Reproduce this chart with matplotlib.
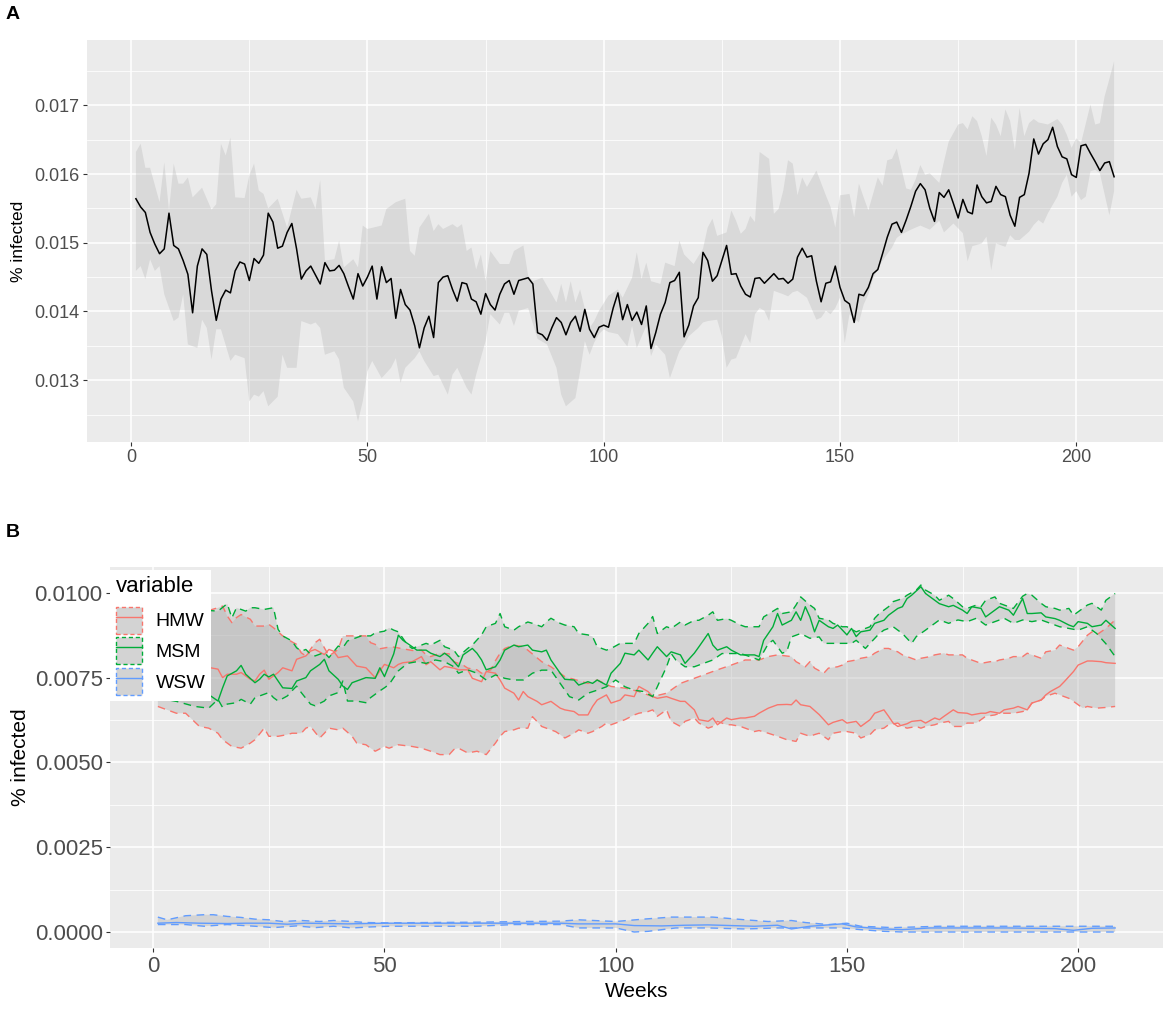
import matplotlib
matplotlib.use("Agg")
import matplotlib.pyplot as plt
from matplotlib.patches import Patch
from matplotlib.lines import Line2D
from matplotlib.legend_handler import HandlerTuple
import numpy as np

plt.rcParams['font.family'] = ['Liberation Sans', 'DejaVu Sans']

# ---------------- panel A : overall % infected ----------------
weeks = np.arange(1, 209)
a_mid = [
    .01564, .01552, .01544, .01515, .01498, .01484, .01491, .01543, .01496, .01491,
    .01474, .01454, .01398, .01466, .01491, .01483, .01430, .01387, .01418, .01431,
    .01427, .01459, .01472, .01469, .01445, .01477, .01470, .01482, .01543, .01530,
    .01492, .01495, .01515, .01528, .01491, .01447, .01459, .01466, .01453, .01440,
    .01471, .01459, .01460, .01467, .01455, .01436, .01418, .01455, .01437, .01450,
    .01466, .01418, .01465, .01442, .01448, .01390, .01432, .01410, .01402, .01379,
    .01347, .01376, .01393, .01362, .01442, .01450, .01452, .01432, .01415, .01442,
    .01440, .01418, .01414, .01396, .01426, .01410, .01402, .01425, .01440, .01445,
    .01425, .01445, .01447, .01449, .01440, .01369, .01366, .01358, .01376, .01391,
    .01384, .01366, .01384, .01393, .01371, .01403, .01374, .01362, .01377, .01380,
    .01377, .01405, .01427, .01388, .01410, .01387, .01399, .01381, .01408, .01346,
    .01369, .01396, .01413, .01442, .01445, .01457, .01363, .01380, .01408, .01420,
    .01486, .01474, .01444, .01452, .01474, .01496, .01454, .01455, .01437, .01425,
    .01421, .01448, .01449, .01441, .01448, .01455, .01447, .01448, .01441, .01447,
    .01479, .01492, .01479, .01481, .01444, .01414, .01441, .01443, .01466, .01435,
    .01416, .01411, .01384, .01425, .01423, .01435, .01455, .01461, .01484, .01508,
    .01527, .01530, .01515, .01533, .01553, .01575, .01586, .01577, .01550, .01531,
    .01573, .01566, .01577, .01557, .01536, .01563, .01545, .01542, .01584, .01567,
    .01558, .01560, .01582, .01570, .01567, .01540, .01524, .01566, .01570, .01601,
    .01651, .01629, .01644, .01650, .01668, .01640, .01625, .01622, .01599, .01595,
    .01641, .01643, .01630, .01618, .01605, .01616, .01618, .01596]

a_up_wk = [1, 2, 3, 4, 6, 7, 8, 9, 10, 11, 12, 13, 15, 17, 18, 19, 20, 21, 22, 24,
           25, 26, 27, 28, 29, 31, 33, 35, 36, 38, 39, 40, 41, 43, 44, 45, 47, 48, 49, 50,
           53, 54, 56, 58, 59, 60, 61, 63, 64, 65, 66, 68, 69, 70, 71, 72, 73, 74, 75, 76,
           78, 79, 80, 81, 83, 84, 85, 87, 89, 90, 91, 92, 93, 94, 95, 97, 98, 99, 101, 103,
           104, 106, 107, 108, 109, 110, 112, 113, 115, 116, 117, 119, 121, 122, 123, 124, 126, 127, 128, 129,
           130, 131, 132, 133, 135, 136, 137, 138, 139, 140, 141, 142, 143, 145, 147, 148, 149, 150, 152, 153,
           154, 155, 156, 157, 158, 159, 160, 161, 162, 164, 165, 166, 167, 168, 169, 171, 172, 173, 175, 176,
           177, 178, 179, 180, 181, 182, 183, 184, 185, 186, 187, 188, 189, 190, 191, 192, 194, 196, 197, 198,
           199, 200, 201, 203, 204, 205, 206, 207, 208]
a_up = [.01632, .01644, .01609, .01609, .01559, .01617, .01547, .01615, .01586, .01586,
        .01595, .01566, .01580, .01548, .01556, .01644, .01627, .01653, .01566, .01565,
        .01598, .01615, .01576, .01571, .01550, .01564, .01522, .01577, .01564, .01566,
        .01549, .01591, .01474, .01476, .01503, .01464, .01476, .01464, .01525, .01520,
        .01525, .01549, .01559, .01564, .01488, .01481, .01522, .01542, .01517, .01527,
        .01520, .01527, .01522, .01527, .01488, .01493, .01461, .01483, .01444, .01488,
        .01469, .01469, .01469, .01488, .01496, .01452, .01444, .01449, .01425, .01413,
        .01440, .01413, .01444, .01413, .01432, .01376, .01386, .01401, .01423, .01432,
        .01420, .01449, .01486, .01447, .01471, .01444, .01440, .01471, .01466, .01503,
        .01483, .01469, .01491, .01522, .01535, .01510, .01515, .01547, .01532, .01513,
        .01520, .01539, .01530, .01632, .01622, .01542, .01549, .01576, .01620, .01615,
        .01569, .01595, .01581, .01605, .01569, .01552, .01522, .01569, .01571, .01537,
        .01586, .01566, .01547, .01571, .01595, .01583, .01620, .01622, .01637, .01579,
        .01577, .01592, .01613, .01599, .01601, .01587, .01618, .01647, .01672, .01674,
        .01665, .01684, .01677, .01655, .01626, .01682, .01672, .01655, .01694, .01677,
        .01635, .01696, .01655, .01674, .01680, .01675, .01672, .01680, .01672, .01657,
        .01638, .01652, .01645, .01701, .01672, .01674, .01713, .01738, .01764]

a_lo_wk = [1, 2, 3, 4, 5, 6, 7, 9, 10, 11, 12, 14, 15, 16, 17, 18, 19, 21, 22, 24,
           25, 26, 27, 28, 29, 31, 32, 33, 35, 36, 38, 39, 40, 41, 43, 44, 45, 47, 48, 49,
           50, 51, 53, 55, 56, 57, 58, 60, 61, 62, 64, 65, 67, 68, 69, 71, 72, 73, 75, 76,
           78, 79, 80, 81, 82, 84, 86, 88, 90, 91, 92, 94, 95, 96, 97, 98, 99, 100, 101, 103,
           105, 106, 107, 109, 110, 111, 113, 114, 116, 117, 118, 120, 121, 122, 124, 125, 126, 127, 128, 130,
           131, 132, 133, 134, 135, 136, 138, 139, 140, 141, 143, 145, 146, 147, 148, 149, 150, 151, 152, 154,
           155, 156, 157, 159, 161, 162, 163, 165, 167, 169, 171, 172, 174, 176, 177, 178, 180, 181, 182, 183,
           185, 186, 187, 188, 190, 191, 192, 193, 194, 196, 197, 198, 199, 200, 201, 202, 203, 204, 205, 207,
           208]
a_lo = [.01459, .01466, .01447, .01476, .01459, .01466, .01425, .01386, .01391, .01425,
        .01352, .01347, .01388, .01376, .01330, .01374, .01374, .01328, .01337, .01332,
        .01269, .01279, .01276, .01284, .01262, .01276, .01337, .01318, .01318, .01386,
        .01381, .01384, .01376, .01337, .01342, .01330, .01289, .01269, .01240, .01269,
        .01313, .01328, .01303, .01318, .01332, .01296, .01318, .01332, .01342, .01328,
        .01306, .01308, .01279, .01308, .01318, .01289, .01279, .01308, .01357, .01396,
        .01381, .01398, .01398, .01379, .01401, .01405, .01360, .01352, .01318, .01279,
        .01262, .01274, .01313, .01357, .01337, .01355, .01367, .01374, .01370, .01367,
        .01349, .01379, .01347, .01379, .01335, .01352, .01337, .01303, .01342, .01352,
        .01364, .01376, .01384, .01386, .01388, .01364, .01318, .01330, .01332, .01367,
        .01354, .01396, .01405, .01401, .01386, .01430, .01425, .01422, .01428, .01430,
        .01420, .01388, .01391, .01401, .01396, .01405, .01420, .01354, .01396, .01384,
        .01410, .01425, .01448, .01474, .01493, .01507, .01512, .01519, .01525, .01519,
        .01532, .01515, .01528, .01514, .01473, .01495, .01499, .01509, .01460, .01499,
        .01494, .01511, .01504, .01504, .01516, .01526, .01533, .01528, .01543, .01567,
        .01587, .01599, .01567, .01575, .01562, .01567, .01604, .01606, .01601, .01540,
        .01575]

# ---------------- panel B : by group ----------------
groups = ['HMW', 'MSM', 'WSW']
colors = ['#F8766D', '#00AD38', '#619CFF']

hmw_mid_wk = [1, 4, 7, 10, 12, 14, 15, 16, 18, 19, 21, 22, 23, 24, 25, 27, 28, 30, 31, 33,
              34, 35, 37, 38, 39, 40, 42, 43, 44, 46, 48, 49, 50, 52, 53, 54, 56, 58, 59, 60,
              62, 63, 65, 66, 68, 69, 71, 72, 74, 75, 76, 78, 79, 80, 81, 83, 84, 86, 88, 89,
              91, 92, 94, 95, 96, 98, 99, 101, 102, 104, 105, 107, 108, 109, 111, 112, 114, 115, 117, 118,
              120, 121, 122, 124, 125, 127, 128, 130, 131, 133, 135, 137, 138, 139, 140, 142, 144, 146, 147, 149,
              150, 152, 153, 155, 156, 158, 159, 160, 161, 163, 164, 166, 167, 169, 170, 171, 173, 174, 176, 177,
              179, 180, 181, 183, 184, 186, 187, 189, 190, 192, 193, 194, 196, 197, 199, 200, 202, 203, 205, 206,
              208]
hmw_mid = [.00800, .00790, .00810, .00790, .00780, .00775, .00750, .00760, .00760, .00765,
           .00745, .00740, .00760, .00772, .00745, .00765, .00779, .00770, .00804, .00814,
           .00828, .00833, .00818, .00833, .00828, .00809, .00814, .00799, .00784, .00779,
           .00750, .00770, .00789, .00779, .00789, .00794, .00797, .00812, .00788, .00797,
           .00773, .00783, .00778, .00773, .00773, .00748, .00738, .00768, .00763, .00743,
           .00719, .00704, .00684, .00709, .00694, .00680, .00670, .00680, .00660, .00655,
           .00650, .00640, .00640, .00665, .00684, .00699, .00675, .00684, .00699, .00694,
           .00724, .00709, .00694, .00689, .00694, .00689, .00680, .00680, .00655, .00626,
           .00621, .00631, .00611, .00631, .00626, .00631, .00631, .00636, .00645, .00660,
           .00670, .00671, .00670, .00684, .00670, .00665, .00641, .00611, .00618, .00626,
           .00616, .00621, .00606, .00626, .00645, .00655, .00636, .00616, .00606, .00614,
           .00621, .00624, .00616, .00631, .00626, .00636, .00655, .00647, .00645, .00640,
           .00645, .00645, .00650, .00645, .00655, .00660, .00665, .00655, .00675, .00684,
           .00699, .00709, .00724, .00738, .00768, .00787, .00799, .00799, .00797, .00794,
           .00792]

hmw_lo_wk = [1, 3, 5, 7, 10, 12, 14, 15, 17, 19, 21, 22, 24, 25, 27, 29, 30, 32, 33, 34,
             36, 37, 38, 40, 41, 43, 44, 46, 47, 48, 50, 51, 53, 56, 58, 60, 62, 64, 65, 66,
             68, 70, 72, 74, 75, 76, 78, 79, 81, 82, 84, 85, 87, 88, 89, 91, 92, 94, 95, 97,
             98, 99, 101, 102, 104, 105, 107, 108, 109, 111, 112, 114, 115, 117, 118, 120, 121, 122, 124, 125,
             127, 128, 130, 131, 133, 135, 137, 139, 140, 142, 143, 144, 146, 147, 149, 150, 152, 153, 155, 156,
             158, 159, 161, 162, 163, 165, 166, 167, 169, 170, 172, 173, 175, 176, 178, 179, 180, 182, 183, 185,
             186, 188, 189, 190, 192, 193, 195, 196, 198, 199, 201, 202, 204, 206, 208]
hmw_lo = [.00665, .00655, .00645, .00645, .00606, .00601, .00586, .00567, .00547, .00542,
          .00557, .00567, .00601, .00577, .00577, .00582, .00586, .00586, .00601, .00606,
          .00572, .00586, .00601, .00596, .00601, .00577, .00557, .00552, .00542, .00533,
          .00547, .00542, .00552, .00547, .00542, .00533, .00523, .00523, .00538, .00542,
          .00528, .00533, .00523, .00557, .00577, .00591, .00596, .00601, .00601, .00635,
          .00606, .00601, .00591, .00582, .00572, .00586, .00596, .00586, .00591, .00606,
          .00616, .00611, .00621, .00626, .00640, .00645, .00650, .00655, .00636, .00655,
          .00621, .00606, .00621, .00631, .00616, .00601, .00606, .00621, .00611, .00611,
          .00606, .00601, .00591, .00594, .00586, .00577, .00567, .00562, .00586, .00577,
          .00582, .00586, .00567, .00586, .00591, .00591, .00586, .00572, .00582, .00596,
          .00601, .00611, .00616, .00606, .00601, .00606, .00601, .00606, .00611, .00616,
          .00621, .00606, .00606, .00616, .00616, .00626, .00636, .00640, .00645, .00645,
          .00645, .00650, .00655, .00675, .00684, .00695, .00704, .00699, .00689, .00680,
          .00660, .00665, .00660, .00662, .00665]

hmw_up_wk = [1, 5, 10, 14, 15, 16, 17, 18, 19, 21, 22, 24, 25, 26, 28, 29, 31, 32, 33, 35,
             36, 37, 38, 40, 41, 43, 44, 46, 47, 48, 49, 51, 52, 54, 56, 58, 59, 60, 62, 64,
             65, 67, 68, 70, 71, 73, 74, 75, 76, 78, 80, 81, 84, 86, 89, 94, 96, 99, 102, 105,
             108, 111, 114, 117, 120, 122, 125, 128, 131, 133, 135, 138, 139, 141, 142, 143, 145, 146, 148, 149,
             150, 152, 153, 155, 156, 158, 159, 161, 162, 163, 165, 166, 168, 169, 171, 172, 174, 175, 176, 178,
             179, 181, 182, 183, 185, 186, 188, 189, 191, 192, 193, 195, 196, 198, 199, 200, 202, 203, 204, 206,
             208]
hmw_up = [.00930, .00950, .00940, .00956, .00961, .00932, .00912, .00927, .00936, .00922,
          .00902, .00902, .00907, .00897, .00873, .00863, .00848, .00823, .00814, .00853,
          .00863, .00838, .00814, .00833, .00873, .00873, .00873, .00873, .00853, .00848,
          .00835, .00840, .00840, .00835, .00830, .00831, .00817, .00812, .00822, .00820,
          .00797, .00787, .00778, .00773, .00763, .00773, .00800, .00822, .00836, .00846,
          .00841, .00831, .00797, .00782, .00753, .00733, .00743, .00724, .00719, .00709,
          .00694, .00704, .00733, .00748, .00763, .00773, .00787, .00802, .00802, .00812,
          .00817, .00812, .00797, .00782, .00797, .00778, .00763, .00778, .00782, .00787,
          .00797, .00802, .00807, .00812, .00822, .00836, .00836, .00826, .00817, .00812,
          .00802, .00807, .00812, .00817, .00822, .00817, .00817, .00817, .00807, .00797,
          .00792, .00797, .00797, .00802, .00807, .00812, .00812, .00822, .00812, .00807,
          .00826, .00831, .00846, .00836, .00831, .00841, .00875, .00885, .00876, .00895,
          .00920]

msm_mid_wk = [1, 5, 9, 12, 14, 15, 16, 18, 19, 20, 22, 23, 24, 25, 26, 27, 28, 30, 31, 33,
              34, 36, 37, 38, 40, 41, 42, 43, 44, 46, 48, 49, 50, 52, 53, 54, 56, 57, 59, 60,
              62, 63, 64, 66, 67, 69, 70, 71, 72, 74, 75, 76, 78, 79, 81, 82, 84, 85, 86, 88,
              89, 91, 92, 94, 95, 96, 98, 99, 101, 102, 104, 105, 107, 108, 109, 111, 112, 114, 115, 117,
              118, 120, 121, 122, 124, 125, 127, 128, 130, 131, 132, 134, 135, 136, 138, 139, 140, 141, 142, 143,
              144, 146, 147, 148, 150, 151, 152, 153, 155, 156, 158, 159, 161, 162, 163, 164, 166, 167, 169, 170,
              172, 173, 175, 176, 177, 179, 180, 182, 183, 185, 186, 188, 189, 190, 192, 193, 195, 196, 198, 199,
              200, 202, 203, 205, 206, 208]
msm_mid = [.00720, .00740, .00710, .00700, .00681, .00720, .00755, .00770, .00786, .00760,
           .00735, .00745, .00760, .00752, .00760, .00740, .00720, .00718, .00740, .00750,
           .00770, .00789, .00804, .00770, .00745, .00725, .00715, .00735, .00740, .00750,
           .00748, .00779, .00753, .00820, .00875, .00860, .00841, .00831, .00831, .00822,
           .00812, .00822, .00812, .00782, .00817, .00836, .00822, .00802, .00773, .00782,
           .00802, .00831, .00846, .00841, .00846, .00831, .00826, .00831, .00802, .00763,
           .00745, .00743, .00728, .00738, .00733, .00743, .00728, .00763, .00792, .00822,
           .00817, .00831, .00802, .00822, .00841, .00812, .00826, .00817, .00792, .00822,
           .00841, .00880, .00846, .00831, .00841, .00831, .00817, .00817, .00817, .00812,
           .00860, .00900, .00939, .00905, .00919, .00944, .00919, .00959, .00929, .00885,
           .00919, .00900, .00895, .00905, .00876, .00895, .00871, .00885, .00890, .00910,
           .00919, .00934, .00954, .00959, .00983, .00993, .01018, .00998, .00978, .00968,
           .00959, .00963, .00949, .00939, .00959, .00954, .00929, .00949, .00959, .00949,
           .00934, .00983, .00939, .00939, .00941, .00929, .00924, .00919, .00905, .00900,
           .00915, .00910, .00900, .00905, .00919, .00895]

msm_up_wk = [1, 5, 10, 14, 16, 17, 18, 20, 21, 22, 24, 26, 27, 28, 30, 31, 32, 33, 34, 35,
             37, 38, 40, 41, 42, 44, 45, 47, 48, 50, 51, 52, 53, 55, 56, 58, 59, 60, 62, 63,
             65, 66, 68, 69, 71, 72, 74, 75, 76, 78, 79, 81, 82, 84, 85, 86, 88, 89, 91, 92,
             94, 95, 96, 98, 99, 101, 102, 104, 105, 107, 108, 109, 111, 112, 114, 115, 117, 118, 120, 121,
             122, 124, 125, 127, 128, 130, 131, 132, 135, 136, 138, 139, 140, 142, 143, 144, 146, 147, 149, 150,
             152, 153, 155, 156, 157, 159, 160, 162, 163, 165, 166, 167, 169, 170, 172, 173, 175, 176, 178, 179,
             180, 182, 183, 185, 186, 188, 189, 190, 192, 193, 195, 196, 198, 199, 200, 202, 203, 205, 206, 208]
msm_up = [.00900, .00930, .00950, .00946, .00968, .00926, .00956, .00946, .00956, .00956,
          .00951, .00956, .00892, .00873, .00858, .00838, .00828, .00833, .00819, .00814,
          .00824, .00809, .00843, .00838, .00858, .00868, .00873, .00873, .00882, .00887,
          .00897, .00890, .00885, .00846, .00836, .00846, .00851, .00846, .00860, .00841,
          .00831, .00812, .00836, .00846, .00876, .00900, .00910, .00939, .00900, .00890,
          .00900, .00914, .00910, .00900, .00914, .00925, .00910, .00905, .00900, .00880,
          .00876, .00871, .00841, .00831, .00836, .00851, .00851, .00851, .00880, .00910,
          .00930, .00880, .00900, .00895, .00914, .00905, .00919, .00919, .00934, .00944,
          .00919, .00924, .00919, .00905, .00900, .00900, .00900, .00929, .00954, .00939,
          .00944, .00964, .00988, .00964, .00954, .00925, .00920, .00910, .00900, .00900,
          .00885, .00890, .00900, .00925, .00939, .00959, .00974, .00983, .00993, .01008,
          .01023, .01008, .00993, .00978, .00993, .00983, .00959, .00954, .00964, .00959,
          .00978, .00988, .00969, .00959, .00954, .00990, .00998, .00993, .00969, .00959,
          .00954, .00949, .00954, .00934, .00944, .00964, .00969, .00949, .00978, .00998]

msm_lo_wk = [1, 5, 9, 12, 14, 15, 16, 18, 19, 21, 22, 23, 25, 26, 27, 29, 30, 31, 32, 34,
             35, 37, 38, 40, 41, 42, 44, 46, 47, 49, 50, 51, 53, 55, 57, 59, 61, 63, 65, 66,
             68, 70, 72, 74, 76, 78, 80, 82, 84, 86, 88, 90, 92, 94, 96, 98, 100, 102, 104, 106,
             108, 109, 111, 112, 113, 115, 117, 119, 121, 123, 125, 127, 129, 131, 133, 134, 136, 137, 138, 140,
             142, 144, 145, 147, 149, 151, 152, 154, 155, 157, 158, 160, 162, 164, 165, 167, 169, 170, 172, 174,
             176, 178, 180, 182, 184, 186, 188, 190, 192, 194, 196, 198, 200, 202, 204, 206, 208]
msm_lo = [.00690, .00680, .00665, .00660, .00686, .00662, .00672, .00676, .00686, .00672,
          .00691, .00696, .00706, .00691, .00681, .00696, .00711, .00725, .00706, .00672,
          .00667, .00681, .00696, .00706, .00740, .00681, .00681, .00676, .00691, .00711,
          .00720, .00730, .00770, .00792, .00797, .00792, .00802, .00797, .00782, .00763,
          .00773, .00763, .00743, .00758, .00748, .00743, .00743, .00763, .00772, .00772,
          .00733, .00694, .00684, .00704, .00713, .00723, .00743, .00723, .00713, .00709,
          .00694, .00723, .00782, .00821, .00802, .00782, .00782, .00792, .00802, .00821,
          .00821, .00821, .00812, .00802, .00850, .00860, .00822, .00827, .00870, .00880,
          .00866, .00870, .00851, .00851, .00851, .00851, .00860, .00836, .00851, .00880,
          .00890, .00900, .00880, .00851, .00871, .00890, .00910, .00920, .00910, .00920,
          .00915, .00925, .00905, .00915, .00925, .00910, .00920, .00915, .00920, .00910,
          .00900, .00895, .00890, .00900, .00880, .00850, .00812]

wsw_mid_wk = [1, 5, 10, 16, 20, 25, 29, 33, 38, 42, 46, 50, 60, 70, 80, 88, 92, 100, 104, 110,
              115, 120, 125, 130, 135, 138, 142, 149, 152, 158, 162, 168, 175, 185, 195, 199, 203, 208]
wsw_mid = [.00026, .00028, .00026, .00025, .00026, .00026, .00023, .00026, .00025, .00024,
           .00025, .00026, .00026, .00026, .00026, .00026, .00024, .00024, .00019, .00018,
           .00020, .00021, .00019, .00017, .00020, .00009, .00017, .00024, .00015, .00009,
           .00007, .00012, .00012, .00012, .00010, .00005, .00011, .00012]
wsw_up_wk = [1, 3, 7, 11, 13, 16, 19, 22, 25, 28, 32, 36, 39, 43, 46, 50, 60, 70, 80, 88,
             92, 100, 106, 112, 117, 121, 128, 133, 138, 141, 146, 150, 153, 160, 170, 180, 190, 200, 208]
wsw_up = [.00044, .00036, .00048, .00051, .00051, .00046, .00043, .00038, .00036, .00031,
          .00034, .00031, .00034, .00031, .00028, .00027, .00028, .00029, .00031, .00032,
          .00036, .00031, .00038, .00044, .00044, .00044, .00036, .00031, .00034, .00028,
          .00022, .00026, .00017, .00013, .00017, .00017, .00017, .00017, .00017]
wsw_lo_wk = [1, 7, 11, 16, 22, 26, 31, 35, 39, 43, 47, 51, 60, 70, 78, 88, 92, 100, 104, 107,
             113, 120, 128, 135, 140, 149, 153, 158, 162, 208]
wsw_lo = [.00022, .00022, .00017, .00022, .00017, .00013, .00018, .00013, .00017, .00012,
          .00015, .00017, .00017, .00017, .00022, .00022, .00012, .00012, .00000, .00002,
          .00012, .00012, .00009, .00012, .00012, .00012, .00007, .00002, .00000, .00000]

series = [
    (hmw_mid_wk, hmw_mid, hmw_lo_wk, hmw_lo, hmw_up_wk, hmw_up),
    (msm_mid_wk, msm_mid, msm_lo_wk, msm_lo, msm_up_wk, msm_up),
    (wsw_mid_wk, wsw_mid, wsw_lo_wk, wsw_lo, wsw_up_wk, wsw_up),
]


def gg_axes(ax, ylim, yticks, yminor, ylabels, fs):
    ax.set_facecolor('#EBEBEB')
    for s in ax.spines.values():
        s.set_visible(False)
    ax.set_xlim(-9.35, 218.35)
    ax.set_ylim(*ylim)
    ax.set_xticks([0, 50, 100, 150, 200])
    ax.set_xticks([25, 75, 125, 175], minor=True)
    ax.set_yticks(yticks)
    ax.set_yticklabels(ylabels)
    ax.set_yticks(yminor, minor=True)
    ax.grid(which='major', color='white', lw=1.1)
    ax.grid(which='minor', color='white', lw=0.55)
    ax.set_axisbelow(True)
    ax.tick_params(which='major', length=2.75, width=0.8, color='#333333',
                   labelcolor='#4D4D4D', labelsize=fs, pad=2.5)
    ax.tick_params(which='minor', length=0)


fig = plt.figure(figsize=(11.7, 10.21), dpi=100)
W, H = 1170, 1021

# panel A
ax_a = fig.add_axes([87 / W, 1 - 442 / H, (1163 - 87) / W, (442 - 40) / H])
gg_axes(ax_a, (0.0121, 0.01795), [0.013, 0.014, 0.015, 0.016, 0.017],
        [0.0125, 0.0135, 0.0145, 0.0155, 0.0165, 0.0175],
        ['0.013', '0.014', '0.015', '0.016', '0.017'], 13)
ax_a.fill(np.r_[a_up_wk, a_lo_wk[::-1]], np.r_[a_up, a_lo[::-1]],
          color='#B3B3B3', alpha=0.32, lw=0)
ax_a.plot(weeks, a_mid, color='black', lw=1.1)
ax_a.set_ylabel('% infected', fontsize=12.5, labelpad=6)

# panel B
ax_b = fig.add_axes([110 / W, 1 - 948.3 / H, (1163 - 110) / W, (948.3 - 566.7) / H])
gg_axes(ax_b, (-0.00048, 0.01077), [0, 0.0025, 0.005, 0.0075, 0.01],
        [0.00125, 0.00375, 0.00625, 0.00875],
        ['0.0000', '0.0025', '0.0050', '0.0075', '0.0100'], 16)
dash = (0, (5.5, 4))
for (mw, mv, lw_, lv, uw, uv), c in zip(series, colors):
    ax_b.fill(np.r_[uw, lw_[::-1]], np.r_[uv, lv[::-1]], color='#B3B3B3', alpha=0.4, lw=0)
for (mw, mv, lw_, lv, uw, uv), c in zip(series, colors):
    ax_b.plot(lw_, lv, color=c, lw=1.0, ls=dash)
    ax_b.plot(uw, uv, color=c, lw=1.0, ls=dash)
    ax_b.plot(mw, mv, color=c, lw=1.0)
ax_b.set_ylabel('% infected', fontsize=15, labelpad=3)
ax_b.set_xlabel('Weeks', fontsize=15, labelpad=4)

handles = [(Patch(facecolor='#D3D3D3', edgecolor=c, linestyle=(0, (3, 2)), lw=1.0),
            Line2D([], [], color=c, lw=1.0)) for c in colors]
leg = ax_b.legend(handles, groups, handler_map={tuple: HandlerTuple(ndivide=1)},
                  title='variable', loc='upper left', bbox_to_anchor=(0, 0.991),
                  borderaxespad=0, frameon=True, facecolor='white', edgecolor='none',
                  framealpha=1, fancybox=False, fontsize=14, title_fontsize=16,
                  handlelength=1.35, handleheight=1.75, labelspacing=0.2,
                  handletextpad=0.7, borderpad=0.3, alignment='left')
leg.get_frame().set_linewidth(0)
leg._legend_box.sep = 7

fig.text(6 / W, 1 - 6 / H, 'A', fontsize=14, fontweight='bold', va='top', ha='left')
fig.text(6 / W, 1 - 524 / H, 'B', fontsize=14, fontweight='bold', va='top', ha='left')

fig.savefig('out.png', dpi=100)
